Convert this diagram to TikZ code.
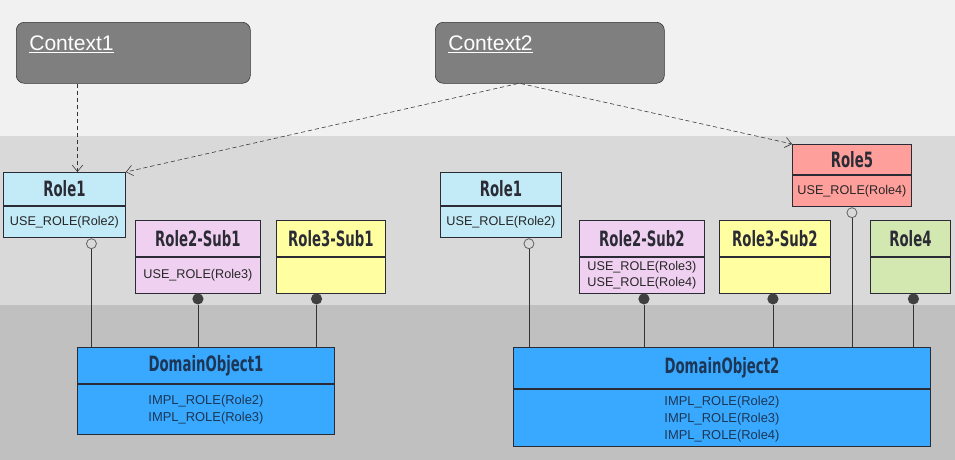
\documentclass[tikz,border=0pt]{standalone}
\usepackage{fontspec}
\setmainfont{Liberation Sans}
\newfontfamily\rolefont{DejaVu Sans}[FakeStretch=0.63]
\usetikzlibrary{positioning, arrows.meta}
\definecolor{bandtop}{HTML}{F1F1F1}
\definecolor{bandmid}{HTML}{D9D9D9}
\definecolor{bandlow}{HTML}{C0C0C0}
\definecolor{ctxgray}{HTML}{7F7F7F}
\definecolor{roleblue}{HTML}{C2EBF7}
\definecolor{rolepink}{HTML}{F0D0F0}
\definecolor{roleyellow}{HTML}{FFFFA2}
\definecolor{rolegreen}{HTML}{D3E8B0}
\definecolor{rolered}{HTML}{FF9F9B}
\definecolor{domainblue}{HTML}{38A9FF}
\definecolor{edge}{HTML}{2B2B35}
\definecolor{navy}{HTML}{1D3655}

\begin{document}
\begin{tikzpicture}[
      x=0.025cm, y=-0.025cm,
      hdr/.style={rectangle, draw=edge, line width=0.6pt, inner sep=0pt,
                  font=\rolefont\bfseries\fontsize{15}{16}\selectfont, text=edge},
      body/.style={rectangle, draw=edge, line width=0.6pt, inner sep=0pt, align=center,
                   font=\fontsize{9}{11.5}\selectfont, text=black!85},
      domhdr/.style={hdr, fill=domainblue, text=navy},
      dombody/.style={body, fill=domainblue, text=navy, font=\fontsize{9.2}{12}\selectfont},
      ctx/.style={rectangle, rounded corners=0.2cm, draw=black!80, fill=ctxgray,
                  text=white, font=\fontsize{15}{18}\selectfont, align=left,
                  inner xsep=0.325cm, inner ysep=0pt, text height=0.7cm, text depth=0.825cm},
      dep/.style={draw=black!80, dash pattern=on 3pt off 2pt,
                  -{Straight Barb[length=1.6mm, width=2.6mm]}},
      link/.style={draw=black!80, line width=0.6pt},
      socket/.style={circle, draw=black!60, line width=0.6pt, minimum size=0.25cm, inner sep=0pt},
      plug/.style={circle, fill=black!75, minimum size=0.28cm, inner sep=0pt},
    ]
    \useasboundingbox (0,0) rectangle (955,460);
    \fill[bandtop] (0,0) rectangle (955,136);
    \fill[bandmid] (0,136) rectangle (955,305);
    \fill[bandlow] (0,305) rectangle (955,460);

    \node[ctx, text width=5.2cm, anchor=north west]   (ctx1) at (16,22)  {\underline{Context1}};
    \node[ctx, text width=5.075cm, anchor=north west] (ctx2) at (435,22) {\underline{Context2}};

    % left group
    \node[hdr, fill=roleblue, minimum width=3.05cm, minimum height=0.825cm, anchor=north west] (role1a) at (3,172) {Role1};
    \node[body, fill=roleblue, minimum width=3.05cm, minimum height=0.775cm, below=0pt of role1a] (role1abody) {USE\_ROLE(Role2)};
    \node[hdr, fill=rolepink, minimum width=3.125cm, minimum height=0.9cm, anchor=north west] (sub21) at (135,220) {Role2-Sub1};
    \node[body, fill=rolepink, minimum width=3.125cm, minimum height=0.9cm, below=0pt of sub21] (sub21body) {USE\_ROLE(Role3)};
    \node[hdr, fill=roleyellow, minimum width=2.725cm, minimum height=0.9cm, anchor=north west] (sub31) at (276,220) {Role3-Sub1};
    \node[body, fill=roleyellow, minimum width=2.725cm, minimum height=0.9cm, below=0pt of sub31] (sub31body) {};
    \node[domhdr, minimum width=6.425cm, minimum height=0.9cm, anchor=north west] (dom1) at (77,347) {DomainObject1};
    \node[dombody, minimum width=6.425cm, minimum height=1.25cm, below=0pt of dom1] (dom1body) {IMPL\_ROLE(Role2)\\IMPL\_ROLE(Role3)};

    % right group
    \node[hdr, fill=roleblue, minimum width=3.025cm, minimum height=0.825cm, anchor=north west] (role1b) at (440,172) {Role1};
    \node[body, fill=roleblue, minimum width=3.025cm, minimum height=0.775cm, below=0pt of role1b] (role1bbody) {USE\_ROLE(Role2)};
    \node[hdr, fill=rolered, minimum width=2.975cm, minimum height=0.75cm, anchor=north west] (role5) at (792,144) {Role5};
    \node[body, fill=rolered, minimum width=2.975cm, minimum height=0.775cm, below=0pt of role5] (role5body) {USE\_ROLE(Role4)};
    \node[hdr, fill=rolepink, minimum width=3.125cm, minimum height=0.9cm, anchor=north west] (sub22) at (579,220) {Role2-Sub2};
    \node[body, fill=rolepink, minimum width=3.125cm, minimum height=0.9cm, below=0pt of sub22] (sub22body) {USE\_ROLE(Role3)\\USE\_ROLE(Role4)};
    \node[hdr, fill=roleyellow, minimum width=2.775cm, minimum height=0.9cm, anchor=north west] (sub32) at (719,220) {Role3-Sub2};
    \node[body, fill=roleyellow, minimum width=2.775cm, minimum height=0.9cm, below=0pt of sub32] (sub32body) {};
    \node[hdr, fill=rolegreen, minimum width=2cm, minimum height=0.9cm, anchor=north west] (role4) at (870,220) {Role4};
    \node[body, fill=rolegreen, minimum width=2cm, minimum height=0.9cm, below=0pt of role4] (role4body) {};
    \node[domhdr, minimum width=10.425cm, minimum height=1.025cm, anchor=north west] (dom2) at (513,347) {DomainObject2};
    \node[dombody, minimum width=10.425cm, minimum height=1.425cm, below=0pt of dom2, text depth=-0.15cm] (dom2body) {IMPL\_ROLE(Role2)\\IMPL\_ROLE(Role3)\\IMPL\_ROLE(Role4)};

    \node[socket] (s1) at ([xshift=0.675cm, yshift=-0.15cm]role1abody.south) {};
    \node[plug]   (p1) at ([yshift=-0.13cm]sub21body.south) {};
    \node[plug]   (p2) at ([xshift=-0.36cm, yshift=-0.13cm]sub31body.south) {};
    \node[socket] (s2) at ([xshift=0.7cm, yshift=-0.15cm]role1bbody.south) {};
    \node[plug]   (p3) at ([xshift=0.05cm, yshift=-0.13cm]sub22body.south) {};
    \node[plug]   (p4) at ([xshift=-0.05cm, yshift=-0.13cm]sub32body.south) {};
    \node[socket] (s3) at ([yshift=-0.15cm]role5body.south) {};
    \node[plug]   (p5) at ([xshift=0.075cm, yshift=-0.13cm]role4body.south) {};

    \draw[link] (s1) -- (s1 |- dom1.north);
    \draw[link] (p1) -- (p1 |- dom1.north);
    \draw[link] (p2) -- (p2 |- dom1.north);
    \draw[link] (s2) -- (s2 |- dom2.north);
    \draw[link] (p3) -- (p3 |- dom2.north);
    \draw[link] (p4) -- (p4 |- dom2.north);
    \draw[link] (s3) -- (s3 |- dom2.north);
    \draw[link] (p5) -- (p5 |- dom2.north);

    \draw[dep] ([xshift=0.325cm]role1a.north |- ctx1.south) -- ([xshift=0.325cm]role1a.north);
    \draw[dep] ([xshift=-0.8cm]ctx2.south) -- (role1a.north east);
    \draw[dep] ([xshift=-0.725cm]ctx2.south) -- (role5.north west);
  \end{tikzpicture}
\end{document}
